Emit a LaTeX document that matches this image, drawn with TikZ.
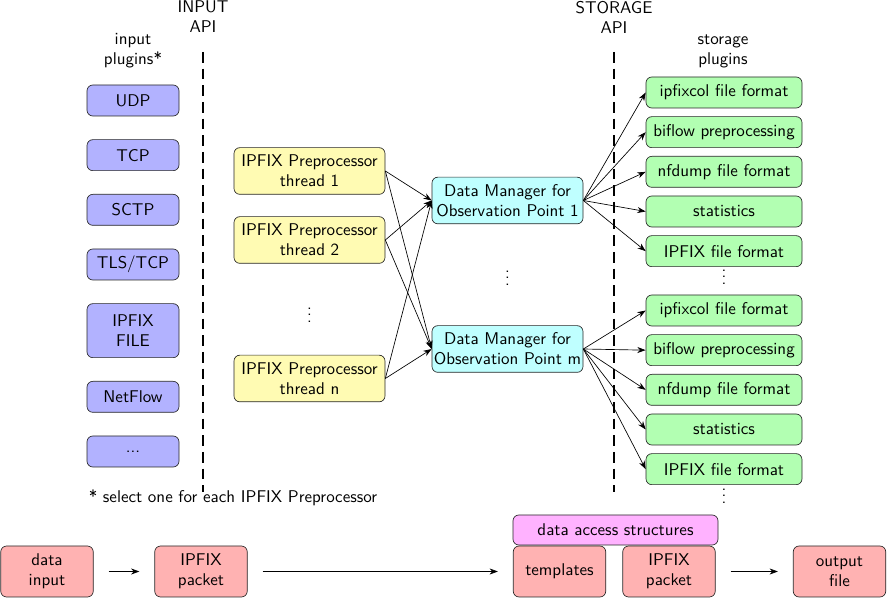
\documentclass[tikz,border=0pt]{standalone}
\usetikzlibrary{positioning,arrows.meta}
\definecolor{managercyan}{RGB}{191,255,255}
\definecolor{accessmagenta}{RGB}{255,178,255}
\begin{document}
\begin{tikzpicture}[x=0.6pt, y=-0.6pt, node distance=13.8pt,
	font=\sffamily\fontsize{10.2}{12}\selectfont,
	>={Stealth[length=5pt,width=3.6pt]},
	box/.style={draw=black!85, rounded corners=3.5pt, align=center, inner xsep=1pt},
	input node/.style={box, fill=blue!30, minimum width=55.2pt, minimum height=18.6pt},
	pre node/.style={box, fill=yellow!30, minimum width=90.6pt, minimum height=28pt},
	manager node/.style={box, fill=managercyan, minimum width=90.6pt, minimum height=28pt},
	storage node/.style={box, fill=green!30, minimum width=93.6pt, minimum height=18.6pt},
	data node/.style={box, fill=red!30, minimum width=55.5pt, minimum height=30.6pt},
	api line/.style={thick, dash pattern=on 6.5pt off 3.5pt}]
	
	\useasboundingbox (0,0) rectangle (887,598);
	
	% labels and API borders
	\node[align=center] (inlabel) at (133,51) {input\\plugins*};
	\node[align=center] (inapi) at (203,17) {INPUT\\API};
	\node[align=center] (stapi) at (614,17) {STORAGE\\API};
	\node[align=center] (stlabel) at (723,51) {storage\\plugins};
	\draw[api line] (203,52) -- (203,492);
	\draw[api line] (614,52) -- (614,492);
	
	% input plugins
	\node[input node] (udp) at (133,100.5) {UDP};
	\node[input node] (tcp) [below=of udp] {TCP};
	\node[input node] (sctp) [below=of tcp] {SCTP};
	\node[input node] (tls) [below=of sctp] {TLS/TCP};
	\node[input node, minimum height=32.4pt] (file) [below=of tls] {IPFIX\\FILE};
	\node[input node] (netflow) [below=of file] {NetFlow};
	\node[input node] (more) [below=of netflow] {...};
	\node (note) at (233,498) {* select one for each IPFIX Preprocessor};
	
	% preprocessors and data managers
	\node[pre node] (pa) at (309.5,171) {IPFIX Preprocessor\\thread 1};
	\node[pre node] (pb) at (309.5,240) {IPFIX Preprocessor\\thread 2};
	\node (pdots) at (309.5,310) {$\vdots$};
	\node[pre node] (pn) at (309.5,378.5) {IPFIX Preprocessor\\thread n};
	\node[manager node] (da) at (507.5,200.5) {Data Manager for\\Observation Point 1};
	\node (ddots) at (507.5,273) {$\vdots$};
	\node[manager node] (dm) at (507.5,349) {Data Manager for\\Observation Point m};
	
	% storage plugins
	\node[storage node] (sa1) at (724,92.5) {ipfixcol file format};
	\node[storage node] (sa2) [below=4.8pt of sa1] {biflow preprocessing};
	\node[storage node] (sa3) [below=4.8pt of sa2] {nfdump file format};
	\node[storage node] (sa4) [below=4.8pt of sa3] {statistics};
	\node[storage node] (sa5) [below=4.8pt of sa4] {IPFIX file format};
	\node (sadots) at (724,272) {$\vdots$};
	\node[storage node] (sm1) at (724,310.5) {ipfixcol file format};
	\node[storage node] (sm2) [below=4.8pt of sm1] {biflow preprocessing};
	\node[storage node] (sm3) [below=4.8pt of sm2] {nfdump file format};
	\node[storage node] (sm4) [below=4.8pt of sm3] {statistics};
	\node[storage node] (sm5) [below=4.8pt of sm4] {IPFIX file format};
	\node (smdots) at (724,491) {$\vdots$};
	
	% data flow
	\node[data node] (din) at (47,571.5) {data\\input};
	\node[data node] (pkt) at (201,571.5) {IPFIX\\packet};
	\node[data node] (tmpl) at (559.5,571.5) {templates};
	\node[data node] (pkt2) at (669,571.5) {IPFIX\\packet};
	\node[data node] (out) at (839.5,571.5) {output\\file};
	\node[box, fill=accessmagenta, minimum width=123pt, minimum height=18pt] (das) at (615.5,530) {data access structures};
	
	\path[->]
	(pa.east) edge (da.west)
	edge (dm.west)
	(pb.east) edge (da.west)
	edge (dm.west)
	(pn.east) edge (da.west)
	edge (dm.west)
	(da.east) edge (sa1.west)
	edge (sa2.west)
	edge (sa3.west)
	edge (sa4.west)
	edge (sa5.west)
	(dm.east) edge (sm1.west)
	edge (sm2.west)
	edge (sm3.west)
	edge (sm4.west)
	edge (sm5.west);
	
	\path[->, shorten >=9pt, shorten <=9pt]
	(din) edge (pkt)
	(pkt) edge (tmpl)
	(pkt2) edge (out);
\end{tikzpicture}
\end{document}
